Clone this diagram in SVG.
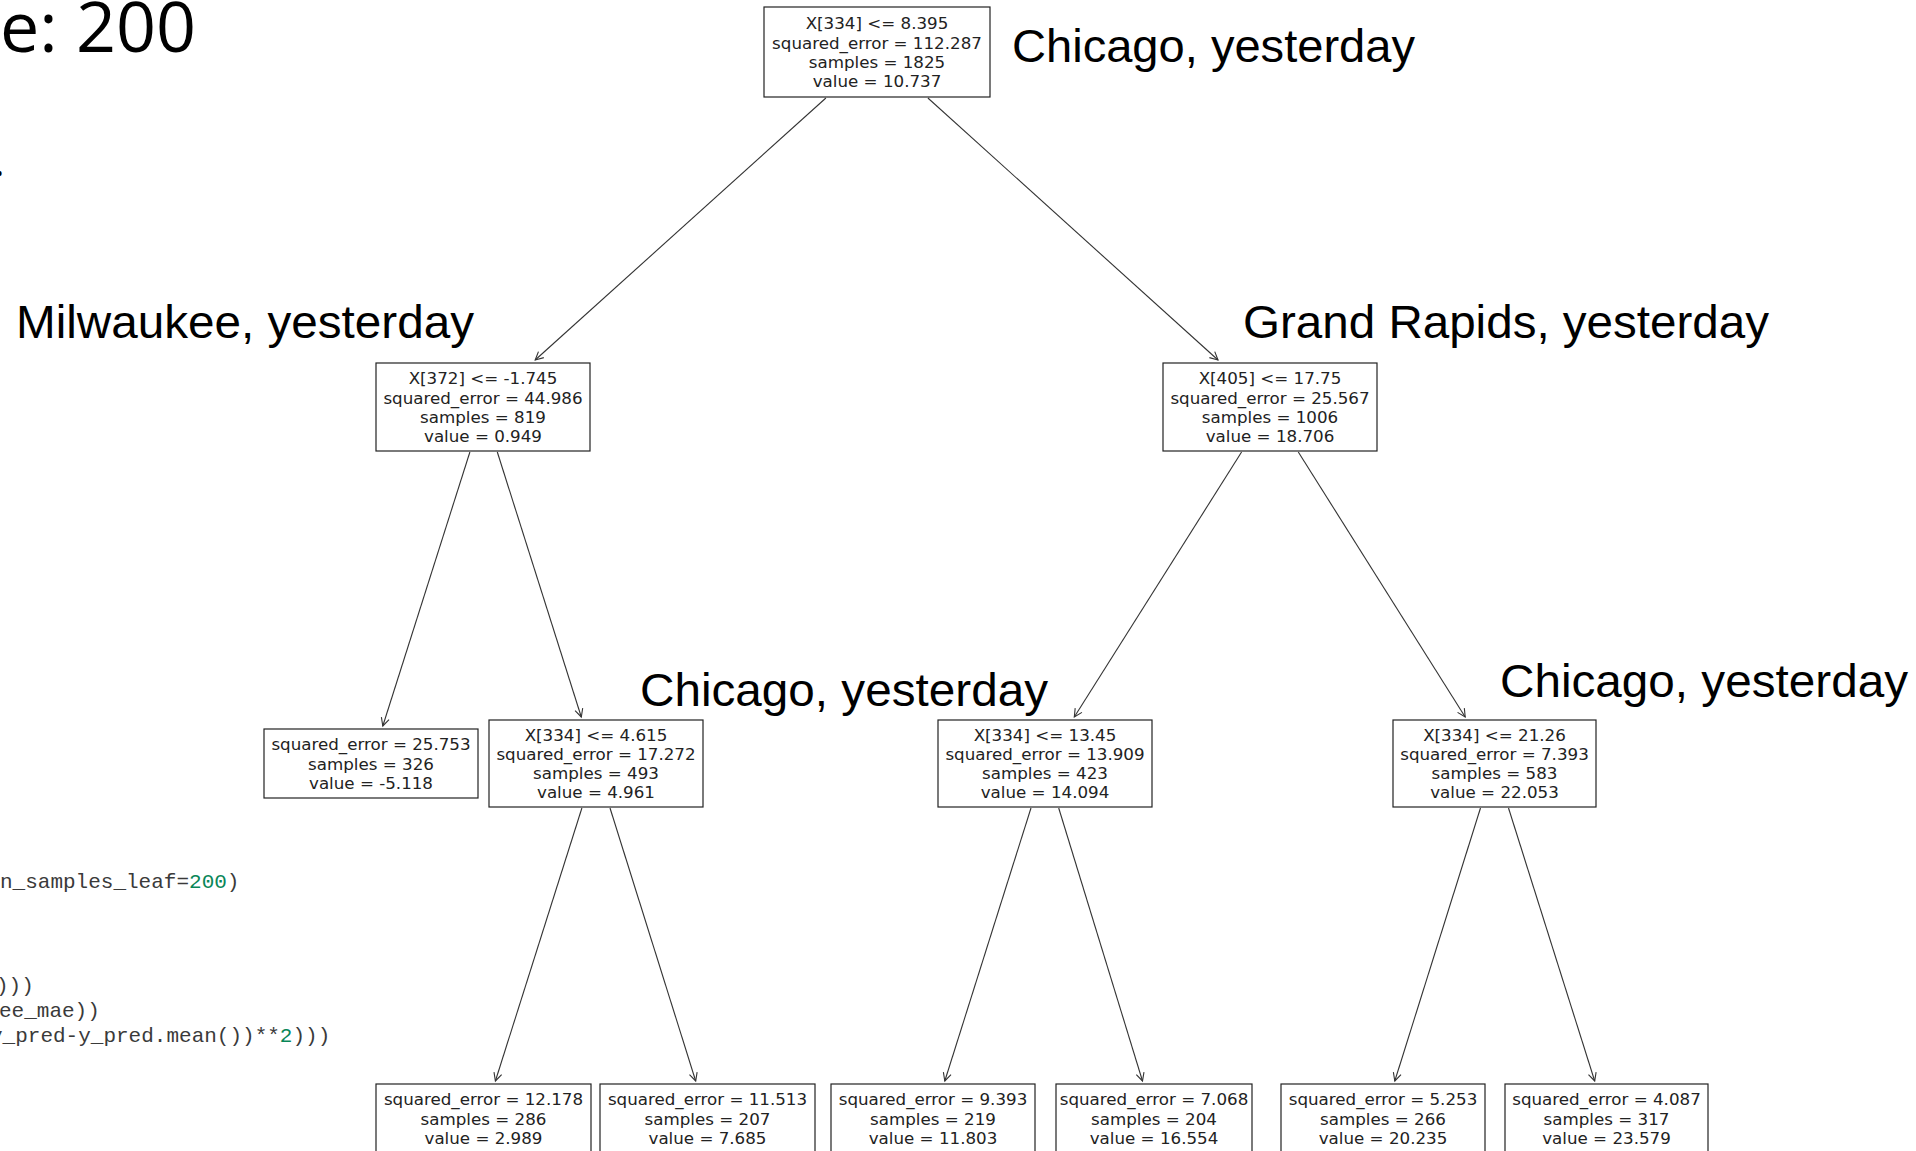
<svg xmlns="http://www.w3.org/2000/svg" width="1916" height="1151" viewBox="0 0 1916 1151">
<style>
.box{fill:#fff;stroke:#222;stroke-width:1.2}
.nt{font-family:"DejaVu Sans",sans-serif;font-size:16.7px;fill:#222;text-anchor:middle}
.lbl{font-family:"Liberation Sans",Arial,sans-serif;font-size:47px;fill:#000}
.code{font-family:"Liberation Mono","Courier New",monospace;font-size:21px;fill:#3a3a3a}
.num{fill:#098658}
.title{font-family:"Open Sans",sans-serif;font-size:70px;fill:#000}
.edge{stroke:#333;stroke-width:1.1;fill:none;marker-end:url(#ah)}
</style>
<defs>
<marker id="ah" markerUnits="userSpaceOnUse" markerWidth="12" markerHeight="12" viewBox="-10 -6 12 12" refX="0" refY="0" orient="auto">
<path d="M-8,-4 L0,0 L-8,4" fill="none" stroke="#333" stroke-width="1.1"/>
</marker>
</defs>
<rect width="1916" height="1151" fill="#fff"/>

<g id="slide-text">
<text class="title" x="196" y="52" text-anchor="end">e: 200</text>
<text class="title" x="-6" y="176" style="font-size:40px">.</text>
<text class="code" x="0" y="888">n_samples_leaf=<tspan class="num">200</tspan>)</text>
<text class="code" x="-4" y="992">)))</text>
<text class="code" x="-1" y="1017">ee_mae))</text>
<text class="code" x="-10" y="1042">y_pred-y_pred.mean())**<tspan class="num">2</tspan>)))</text>
</g>

<g id="labels">
<text class="lbl" x="1012" y="62" textLength="403" lengthAdjust="spacingAndGlyphs">Chicago, yesterday</text>
<text class="lbl" x="16" y="338" textLength="458" lengthAdjust="spacingAndGlyphs">Milwaukee, yesterday</text>
<text class="lbl" x="1243" y="338" textLength="526" lengthAdjust="spacingAndGlyphs">Grand Rapids, yesterday</text>
<text class="lbl" x="640" y="706" textLength="408" lengthAdjust="spacingAndGlyphs">Chicago, yesterday</text>
<text class="lbl" x="1500" y="697" textLength="408" lengthAdjust="spacingAndGlyphs">Chicago, yesterday</text>
</g>

<g id="connectors">
<line class="edge" x1="825.9" y1="98" x2="535.2" y2="360"/>
<line class="edge" x1="927.9" y1="98" x2="1218" y2="360"/>
<line class="edge" x1="469.9" y1="452" x2="382.8" y2="726"/>
<line class="edge" x1="497.3" y1="452" x2="581.3" y2="717"/>
<line class="edge" x1="1241.6" y1="452" x2="1074.3" y2="717"/>
<line class="edge" x1="1298.3" y1="452" x2="1465.2" y2="717"/>
<line class="edge" x1="581.9" y1="808" x2="495.4" y2="1081"/>
<line class="edge" x1="610" y1="808" x2="695.7" y2="1081"/>
<line class="edge" x1="1031" y1="808" x2="944.8" y2="1081"/>
<line class="edge" x1="1058.7" y1="808" x2="1142.5" y2="1081"/>
<line class="edge" x1="1480.5" y1="808" x2="1394.8" y2="1081"/>
<line class="edge" x1="1508.5" y1="808" x2="1594.7" y2="1081"/>
</g>

<g id="n-root">
<rect class="box" x="764" y="7" width="226" height="90"/>
<text class="nt"><tspan x="877" y="29.4">X[334] &lt;= 8.395</tspan><tspan x="877" y="48.5">squared_error = 112.287</tspan><tspan x="877" y="67.6">samples = 1825</tspan><tspan x="877" y="86.7">value = 10.737</tspan></text>
</g>

<g id="n-l1a">
<rect class="box" x="376" y="363" width="214" height="88"/>
<text class="nt"><tspan x="483" y="384.4">X[372] &lt;= -1.745</tspan><tspan x="483" y="403.5">squared_error = 44.986</tspan><tspan x="483" y="422.6">samples = 819</tspan><tspan x="483" y="441.7">value = 0.949</tspan></text>
</g>

<g id="n-l1b">
<rect class="box" x="1163" y="363" width="214" height="88"/>
<text class="nt"><tspan x="1270" y="384.4">X[405] &lt;= 17.75</tspan><tspan x="1270" y="403.5">squared_error = 25.567</tspan><tspan x="1270" y="422.6">samples = 1006</tspan><tspan x="1270" y="441.7">value = 18.706</tspan></text>
</g>

<g id="n-a">
<rect class="box" x="264" y="729" width="214" height="69"/>
<text class="nt"><tspan x="371" y="750.4">squared_error = 25.753</tspan><tspan x="371" y="769.5">samples = 326</tspan><tspan x="371" y="788.6">value = -5.118</tspan></text>
</g>

<g id="n-b">
<rect class="box" x="489" y="720" width="214" height="87"/>
<text class="nt"><tspan x="596" y="740.9">X[334] &lt;= 4.615</tspan><tspan x="596" y="760">squared_error = 17.272</tspan><tspan x="596" y="779.1">samples = 493</tspan><tspan x="596" y="798.2">value = 4.961</tspan></text>
</g>

<g id="n-c">
<rect class="box" x="938" y="720" width="214" height="87"/>
<text class="nt"><tspan x="1045" y="740.9">X[334] &lt;= 13.45</tspan><tspan x="1045" y="760">squared_error = 13.909</tspan><tspan x="1045" y="779.1">samples = 423</tspan><tspan x="1045" y="798.2">value = 14.094</tspan></text>
</g>

<g id="n-d">
<rect class="box" x="1393" y="720" width="203" height="87"/>
<text class="nt"><tspan x="1494.5" y="740.9">X[334] &lt;= 21.26</tspan><tspan x="1494.5" y="760">squared_error = 7.393</tspan><tspan x="1494.5" y="779.1">samples = 583</tspan><tspan x="1494.5" y="798.2">value = 22.053</tspan></text>
</g>

<g id="n-e">
<rect class="box" x="376" y="1084" width="215" height="70"/>
<text class="nt"><tspan x="483.5" y="1105.4">squared_error = 12.178</tspan><tspan x="483.5" y="1124.5">samples = 286</tspan><tspan x="483.5" y="1143.6">value = 2.989</tspan></text>
</g>

<g id="n-f">
<rect class="box" x="600" y="1084" width="215" height="70"/>
<text class="nt"><tspan x="707.5" y="1105.4">squared_error = 11.513</tspan><tspan x="707.5" y="1124.5">samples = 207</tspan><tspan x="707.5" y="1143.6">value = 7.685</tspan></text>
</g>

<g id="n-g">
<rect class="box" x="831" y="1084" width="204" height="70"/>
<text class="nt"><tspan x="933" y="1105.4">squared_error = 9.393</tspan><tspan x="933" y="1124.5">samples = 219</tspan><tspan x="933" y="1143.6">value = 11.803</tspan></text>
</g>

<g id="n-h">
<rect class="box" x="1056" y="1084" width="196" height="70"/>
<text class="nt"><tspan x="1154" y="1105.4">squared_error = 7.068</tspan><tspan x="1154" y="1124.5">samples = 204</tspan><tspan x="1154" y="1143.6">value = 16.554</tspan></text>
</g>

<g id="n-i">
<rect class="box" x="1281" y="1084" width="204" height="70"/>
<text class="nt"><tspan x="1383" y="1105.4">squared_error = 5.253</tspan><tspan x="1383" y="1124.5">samples = 266</tspan><tspan x="1383" y="1143.6">value = 20.235</tspan></text>
</g>

<g id="n-j">
<rect class="box" x="1505" y="1084" width="203" height="70"/>
<text class="nt"><tspan x="1606.5" y="1105.4">squared_error = 4.087</tspan><tspan x="1606.5" y="1124.5">samples = 317</tspan><tspan x="1606.5" y="1143.6">value = 23.579</tspan></text>
</g>
</svg>
